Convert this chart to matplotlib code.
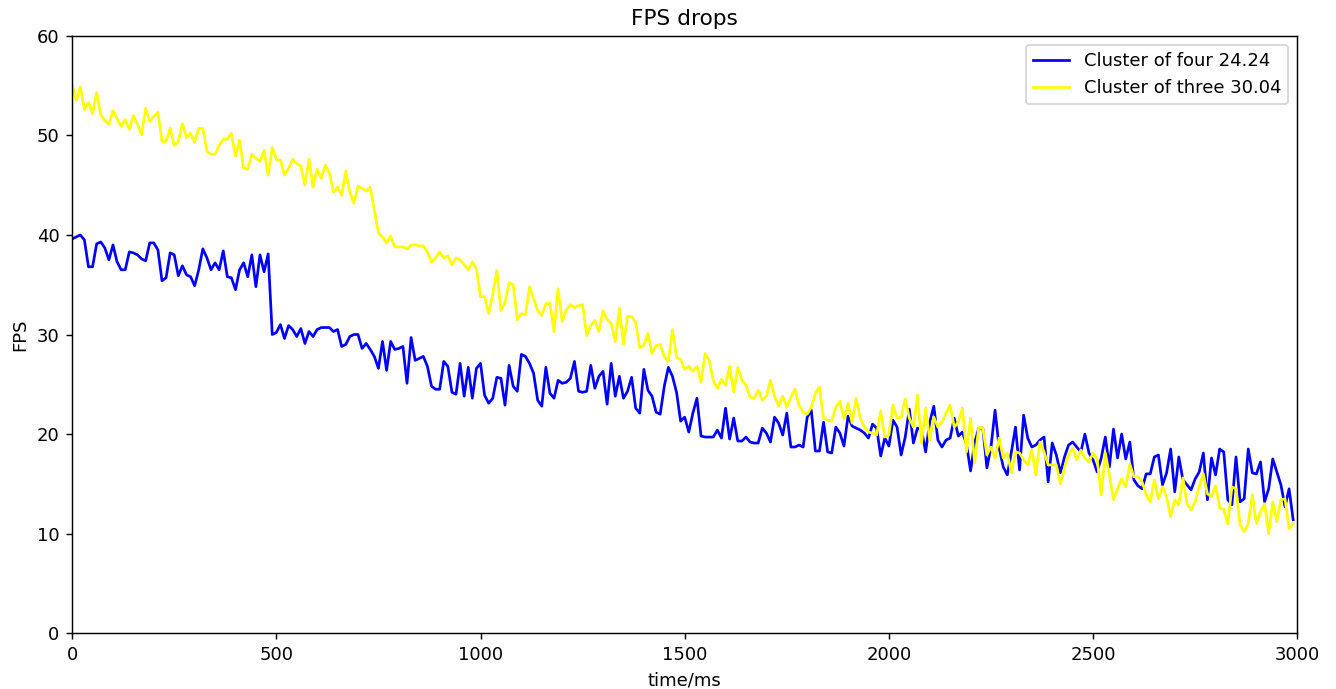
import numpy as np
import matplotlib
matplotlib.use("Agg")
import matplotlib.pyplot as plt

# FPS samples, one every 10 ms
four = [39.6, 39.8, 40.0, 39.5, 36.8, 36.8, 39.1, 39.3, 38.7, 37.5,
        39.0, 37.3, 36.5, 36.5, 38.3, 38.2, 38.0, 37.6, 37.4, 39.2,
        39.2, 38.5, 35.4, 35.7, 38.2, 38.0, 35.9, 36.9, 36.0, 35.8,
        34.9, 36.5, 38.6, 37.7, 36.5, 37.2, 36.5, 38.4, 35.8, 35.7,
        34.5, 36.5, 37.2, 35.8, 38.0, 34.8, 38.0, 36.3, 38.1, 30.0,
        30.2, 31.0, 29.6, 30.9, 30.5, 29.8, 30.6, 29.1, 30.3, 29.8,
        30.5, 30.7, 30.7, 30.7, 30.3, 30.5, 28.8, 29.0, 29.8, 30.0,
        30.0, 28.6, 29.1, 28.5, 27.8, 26.6, 29.3, 26.4, 29.3, 28.5,
        28.6, 28.8, 25.1, 29.7, 27.4, 27.6, 27.8, 26.8, 24.8, 24.5,
        24.5, 27.3, 26.8, 24.2, 24.0, 27.1, 23.8, 26.7, 23.6, 26.6,
        27.1, 23.9, 23.1, 23.6, 25.7, 25.6, 22.9, 26.9, 24.8, 24.3,
        28.0, 27.8, 27.1, 26.1, 23.4, 22.8, 26.7, 24.1, 23.6, 25.4,
        25.1, 25.2, 25.6, 27.3, 24.3, 24.2, 24.3, 26.9, 24.6, 25.8,
        26.3, 23.0, 27.1, 23.8, 25.8, 23.6, 24.3, 25.7, 22.6, 22.1,
        26.5, 24.4, 23.8, 22.2, 22.0, 24.8, 26.7, 25.8, 24.2, 21.3,
        21.7, 20.2, 22.1, 23.6, 19.8, 19.7, 19.7, 19.7, 20.4, 19.6,
        22.6, 19.5, 21.6, 19.3, 19.3, 19.7, 19.2, 19.1, 19.1, 20.6,
        20.1, 19.2, 21.7, 21.1, 19.9, 22.1, 18.7, 18.7, 18.9, 18.7,
        21.7, 22.4, 18.3, 18.3, 21.2, 18.2, 18.1, 20.7, 20.1, 18.8,
        21.8, 20.8, 20.6, 20.4, 20.1, 19.6, 21.0, 20.6, 17.8, 19.6,
        18.8, 21.4, 20.7, 17.9, 19.7, 22.5, 19.1, 20.6, 20.4, 18.2,
        21.2, 22.8, 19.4, 18.7, 19.4, 19.6, 21.6, 19.8, 20.2, 19.0,
        16.3, 19.1, 20.6, 20.6, 16.6, 18.7, 22.4, 18.6, 16.7, 15.9,
        18.2, 20.7, 16.4, 21.9, 19.6, 18.7, 18.9, 19.4, 19.7, 15.2,
        19.1, 17.9, 16.1, 17.7, 18.9, 19.2, 18.7, 18.2, 20.0, 18.1,
        17.4, 16.2, 17.6, 19.7, 16.7, 20.5, 17.6, 20.0, 17.5, 19.2,
        15.4, 14.8, 14.5, 16.0, 16.0, 17.7, 17.9, 14.9, 16.1, 18.5,
        14.2, 17.7, 15.4, 14.9, 14.4, 15.5, 16.2, 18.1, 13.4, 17.6,
        15.9, 18.5, 18.2, 13.4, 12.9, 17.7, 13.2, 13.5, 18.5, 16.1,
        16.0, 17.2, 13.2, 14.5, 17.5, 16.2, 14.9, 12.7, 14.5, 11.4]

three = [55.1, 53.5, 54.9, 52.6, 53.3, 52.2, 54.3, 52.1, 51.5, 51.1,
         52.5, 51.7, 50.9, 51.6, 50.6, 52.0, 51.1, 50.1, 52.7, 51.4,
         51.9, 52.3, 49.4, 49.4, 50.7, 49.0, 49.4, 51.2, 49.8, 50.2,
         49.3, 50.7, 50.7, 48.4, 48.1, 48.1, 49.0, 49.6, 49.6, 50.2,
         47.9, 49.5, 46.7, 46.6, 48.1, 47.7, 47.4, 48.5, 46.0, 48.8,
         47.6, 47.5, 46.0, 46.7, 47.6, 47.2, 46.9, 45.0, 47.6, 44.8,
         46.6, 45.7, 47.0, 46.2, 44.3, 44.8, 44.0, 46.4, 44.3, 43.2,
         44.9, 44.7, 44.4, 44.8, 42.5, 40.2, 39.8, 39.2, 39.9, 38.8,
         38.8, 38.8, 38.6, 39.0, 39.0, 38.9, 38.9, 38.3, 37.3, 37.7,
         38.3, 37.7, 37.9, 37.0, 37.7, 37.5, 37.0, 36.5, 37.3, 36.6,
         33.8, 33.8, 32.1, 34.0, 36.4, 32.4, 33.2, 35.2, 35.0, 31.5,
         32.1, 32.0, 34.8, 33.6, 32.4, 31.9, 33.1, 33.1, 30.3, 34.6,
         31.3, 32.5, 33.0, 32.7, 32.9, 33.0, 29.9, 30.9, 31.4, 30.3,
         32.4, 31.5, 31.1, 29.3, 32.6, 29.0, 31.8, 31.8, 31.2, 28.7,
         28.9, 30.1, 28.1, 28.9, 29.0, 27.8, 27.3, 30.5, 27.7, 27.5,
         26.5, 26.8, 26.3, 26.8, 25.2, 28.1, 27.4, 25.4, 24.6, 25.5,
         24.9, 26.8, 24.2, 26.7, 25.4, 24.9, 23.7, 23.6, 24.4, 23.4,
         23.8, 25.4, 23.8, 22.8, 23.8, 22.7, 23.7, 24.5, 22.9, 22.2,
         22.0, 22.7, 24.1, 24.7, 21.6, 21.4, 21.3, 22.7, 23.3, 21.5,
         23.1, 21.1, 23.6, 21.6, 20.7, 20.2, 20.1, 19.9, 22.3, 19.7,
         19.9, 22.9, 21.6, 21.7, 23.5, 21.6, 20.7, 23.9, 19.1, 22.6,
         19.4, 21.7, 20.7, 21.2, 22.1, 22.9, 20.7, 21.2, 22.6, 18.2,
         21.6, 17.1, 20.7, 20.6, 17.9, 18.7, 17.6, 19.6, 17.6, 18.1,
         16.1, 18.2, 18.1, 17.4, 16.9, 18.4, 15.9, 19.2, 18.2, 16.9,
         16.9, 16.9, 15.0, 16.6, 17.9, 18.6, 17.4, 18.4, 17.6, 17.2,
         18.1, 17.5, 13.9, 18.1, 15.9, 13.4, 14.5, 15.5, 14.7, 17.0,
         15.7, 15.7, 15.2, 13.9, 13.2, 15.4, 13.5, 14.7, 13.7, 11.7,
         13.4, 12.9, 15.6, 13.0, 12.4, 13.2, 14.7, 16.0, 14.0, 13.7,
         14.8, 12.6, 12.4, 11.0, 14.7, 14.5, 10.9, 10.2, 11.0, 13.9,
         11.0, 12.2, 13.0, 10.0, 13.2, 11.2, 13.4, 13.5, 10.5, 11.0]

t = np.arange(len(four)) * 10

# default matplotlib fonts, rendered at 130 dpi
fig = plt.figure(figsize=(1336 / 130, 689 / 130), dpi=130)
ax = fig.add_axes([0.054, 0.081, 0.917, 0.867])
ax.plot(t, four, color='blue', label='Cluster of four 24.24')
ax.plot(t, three, color='yellow', label='Cluster of three 30.04')

ax.set_xlim(0, 3000)
ax.set_ylim(0, 60)
ax.set_xlabel("time/ms")
ax.set_ylabel("FPS")
ax.set_title("FPS drops")
ax.legend(loc='upper right')

fig.savefig('out.png')
